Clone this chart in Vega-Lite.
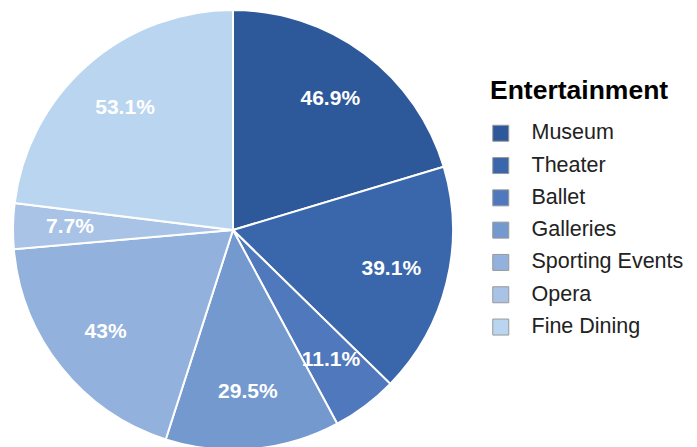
{
  "$schema": "https://vega.github.io/schema/vega-lite/v6.json",
  "width": 466,
  "height": 460,
  "padding": 0,
  "autosize": {"type": "pad"},
  "background": "white",
  "config": {"view": {"stroke": null}, "font": "Liberation Sans"},
  "data": {"values": [
    {"category": "Museum", "value": 46.9, "label": "46.9%", "order": 1},
    {"category": "Theater", "value": 39.1, "label": "39.1%", "order": 2},
    {"category": "Ballet", "value": 11.1, "label": "11.1%", "order": 3},
    {"category": "Galleries", "value": 29.5, "label": "29.5%", "order": 4},
    {"category": "Sporting Events", "value": 43, "label": "43%", "order": 5},
    {"category": "Opera", "value": 7.7, "label": "7.7%", "order": 6},
    {"category": "Fine Dining", "value": 53.1, "label": "53.1%", "order": 7}
  ]},
  "encoding": {
    "theta": {"field": "value", "type": "quantitative", "stack": true},
    "order": {"field": "order", "type": "quantitative"},
    "color": {
      "field": "category",
      "type": "nominal",
      "scale": {
        "domain": ["Museum", "Theater", "Ballet", "Galleries", "Sporting Events", "Opera", "Fine Dining"],
        "range": ["#2d5899", "#3a66ac", "#5078bc", "#7399cf", "#92b1dc", "#a9c3e6", "#bad5ef"]
      },
      "legend": {
        "title": "Entertainment",
        "orient": "none",
        "legendX": 490,
        "legendY": 78,
        "titleFont": "Liberation Sans",
        "titleFontSize": 26.5,
        "titleFontWeight": "bold",
        "titleColor": "#000000",
        "titlePadding": 18,
        "labelFont": "Liberation Sans",
        "labelFontSize": 21.5,
        "labelColor": "#222222",
        "labelOffset": 20,
        "symbolType": "square",
        "symbolSize": 256,
        "symbolStrokeColor": "#999999",
        "symbolStrokeWidth": 1,
        "symbolOpacity": 1,
        "rowPadding": 9.3,
        "padding": 0,
        "offset": 0
      }
    }
  },
  "layer": [
    {
      "mark": {"type": "arc", "outerRadius": 220, "stroke": "white", "strokeWidth": 2}
    },
    {
      "mark": {"type": "text", "radius": 163, "fontSize": 21, "fontWeight": "bold", "font": "Liberation Sans"},
      "encoding": {
        "text": {"field": "label", "type": "nominal"},
        "color": {"value": "white"}
      }
    }
  ]
}
